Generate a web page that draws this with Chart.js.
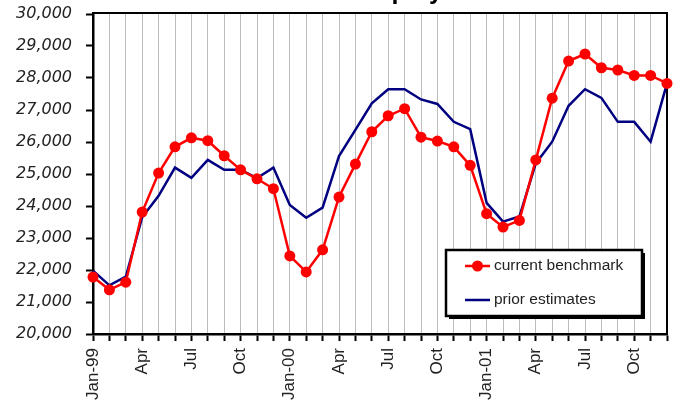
<!DOCTYPE html>
<html><head><meta charset="utf-8">
<script src="https://cdn.jsdelivr.net/npm/chart.js@4.4.1/dist/chart.umd.min.js"></script>
<style>html,body{margin:0;padding:0;background:#fff}#wrap{width:674px;height:404px}</style>
</head><body><div id="wrap"><canvas id="c" width="674" height="404"></canvas></div>
<script>
const titleText = 'Nonfarm Employment';
const months = ['Jan-99','Feb-99','Mar-99','Apr-99','May-99','Jun-99','Jul-99','Aug-99','Sep-99','Oct-99','Nov-99','Dec-99',
  'Jan-00','Feb-00','Mar-00','Apr-00','May-00','Jun-00','Jul-00','Aug-00','Sep-00','Oct-00','Nov-00','Dec-00',
  'Jan-01','Feb-01','Mar-01','Apr-01','May-01','Jun-01','Jul-01','Aug-01','Sep-01','Oct-01','Nov-01','Dec-01'];
const tickLabels = ['Jan-99','Apr','Jul','Oct','Jan-00','Apr','Jul','Oct','Jan-01','Apr','Jul','Oct'];
const currentBenchmark = [21780,21380,21620,23810,25030,25850,26130,26040,25570,25130,24850,24540,
  22440,21940,22630,24280,25310,26320,26820,27040,26150,26030,25850,25270,
  23760,23340,23550,25440,27370,28530,28750,28320,28250,28080,28080,27830];
const priorEstimates = [21980,21520,21790,23650,24320,25200,24880,25440,25130,25130,24870,25200,
  24030,23630,23950,25560,26380,27210,27650,27650,27330,27190,26630,26400,
  24100,23510,23670,25330,26010,27130,27650,27380,26630,26630,26010,27830];
const seriesNames = ['current benchmark','prior estimates'];

const framePlugin = {
  id: 'frame',
  beforeDatasetsDraw(chart) {
    const {ctx, chartArea: a} = chart;
    ctx.save();
    ctx.strokeStyle = '#000';
    ctx.lineWidth = 2;
    ctx.strokeRect(a.left, a.top - 1, a.right - a.left, a.bottom - a.top + 1);
    ctx.restore();
  }
};

const titlePlugin = {
  id: 'cutTitle',
  afterDraw(chart) {
    const ctx = chart.ctx;
    ctx.save();
    ctx.font = 'bold 25px "Liberation Sans", Arial, sans-serif';
    ctx.fillStyle = '#000';
    ctx.textBaseline = 'alphabetic';
    ctx.textAlign = 'left';
    const prefix = titleText.slice(0, titleText.indexOf('p'));
    const x = 391.5 - ctx.measureText(prefix).width;
    ctx.fillText(titleText, x, -1.5);
    ctx.restore();
  }
};

const legendPlugin = {
  id: 'boxLegend',
  afterDraw(chart) {
    const {ctx, chartArea: a} = chart;
    const w = 196, h = 66;
    const x0 = a.right - 25 - w, y0 = a.bottom - 18 - h;
    ctx.save();
    ctx.fillStyle = '#000';
    ctx.fillRect(x0 + 3, y0 + 3, w, h);
    ctx.fillStyle = '#fff';
    ctx.fillRect(x0, y0, w, h);
    ctx.strokeStyle = '#000';
    ctx.lineWidth = 2.5;
    ctx.strokeRect(x0, y0, w, h);
    ctx.font = '15.5px "Liberation Sans", Arial, sans-serif';
    ctx.textBaseline = 'middle';
    ctx.textAlign = 'left';
    chart.data.datasets.forEach((ds, i) => {
      const yy = y0 + 16 + i * 34;
      ctx.strokeStyle = ds.borderColor;
      ctx.lineWidth = 2.5;
      ctx.beginPath();
      ctx.moveTo(x0 + 19, yy);
      ctx.lineTo(x0 + 44, yy);
      ctx.stroke();
      if (ds.pointRadius > 0) {
        ctx.fillStyle = ds.backgroundColor;
        ctx.beginPath();
        ctx.arc(x0 + 31.5, yy, ds.pointRadius, 0, Math.PI * 2);
        ctx.fill();
      }
      ctx.fillStyle = '#222';
      ctx.fillText(ds.label, x0 + 48, yy);
    });
    ctx.restore();
  }
};

new Chart(document.getElementById('c'), {
  type: 'line',
  data: {
    labels: months,
    datasets: [
      { label: seriesNames[0], data: currentBenchmark, borderColor: '#ff0000', backgroundColor: '#ff0000',
        borderWidth: 2.5, pointRadius: 5.5, pointBorderWidth: 0, tension: 0, clip: false, order: 0 },
      { label: seriesNames[1], data: priorEstimates, borderColor: '#000080', backgroundColor: '#000080',
        borderWidth: 2.5, pointRadius: 0, tension: 0, clip: false, order: 1 }
    ]
  },
  options: {
    responsive: false,
    animation: false,
    devicePixelRatio: 1,
    layout: { padding: { top: 14, right: 7, bottom: 0, left: 0 } },
    plugins: { legend: { display: false }, tooltip: { enabled: false }, title: { display: false } },
    scales: {
      x: {
        offset: false,
        grid: { color: '#bdbdbd', lineWidth: 1, tickColor: '#000', tickLength: 7, tickWidth: 2 },
        border: { color: '#000', width: 2.5 },
        ticks: {
          autoSkip: false, maxRotation: 90, minRotation: 90, padding: 7, color: '#222',
          font: { family: '"Liberation Sans", Arial, sans-serif', size: 17 },
          callback: (v, i) => (i % 3 === 0 ? tickLabels[i / 3] : '')
        },
        afterFit: s => { s.height = 70; s.paddingLeft = 0; s.paddingRight = 0; }
      },
      y: {
        min: 20000, max: 30000,
        grid: { drawOnChartArea: false, tickColor: '#000', tickLength: 7, tickWidth: 2 },
        border: { color: '#000', width: 2.5 },
        ticks: {
          stepSize: 1000, padding: 14, color: '#222',
          font: { family: '"DejaVu Sans", sans-serif', style: 'italic', size: 16 },
          callback: v => v.toLocaleString('en-US')
        },
        afterFit: s => { s.width = 93; s.paddingTop = 0; s.paddingBottom = 0; }
      }
    }
  },
  plugins: [framePlugin, legendPlugin, titlePlugin]
});
</script></body></html>
